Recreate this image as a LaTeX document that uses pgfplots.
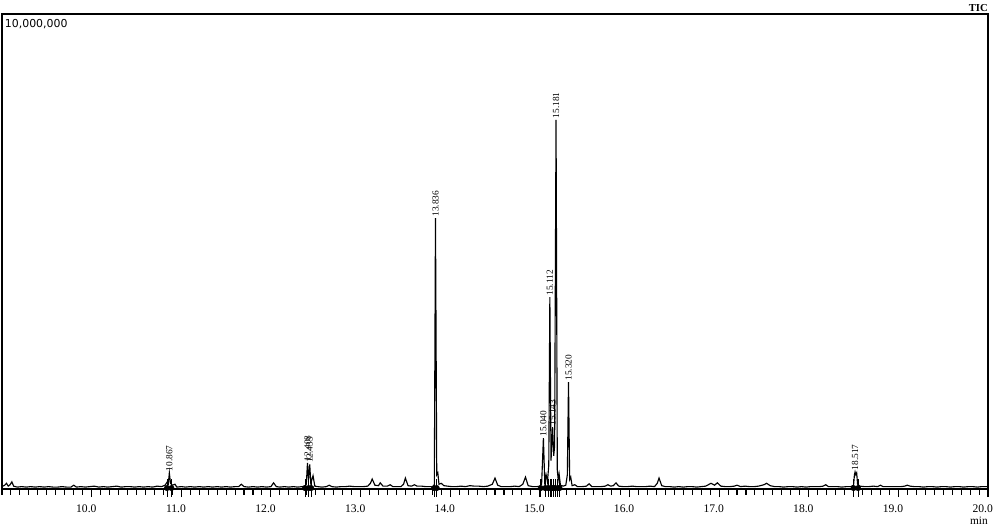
\documentclass[border=0pt]{standalone}
\usepackage{pgfplots}
\pgfplotsset{compat=1.18}
\usepackage{fontspec}
\setmainfont{Liberation Serif}
\newfontfamily\dejavu{DejaVu Sans}

\begin{document}
\begin{tikzpicture}
\begin{axis}[
    scale only axis,
    width=739.5pt, height=356.25pt,
    xmin=9, xmax=20, ymin=0, ymax=10,
    clip=false,
    axis line style={line width=1.1pt},
    xtick={10,11,...,20},
    minor xtick={9.0,9.1,...,20.0},
    ytick=\empty,
    xtick pos=bottom,
    tick align=outside,
    major tick length=6pt,
    minor tick length=4.5pt,
    tick style={black, line width=0.8pt},
    xticklabel style={font=\fontsize{8.7}{10}\selectfont, xshift=-4pt, yshift=-2pt,
        /pgf/number format/.cd, fixed, fixed zerofill, precision=1, assume math mode=true},
]
% TIC trace, intensity in millions
\addplot[black, line width=0.85pt] coordinates {
(9.00,0.05) (9.03,0.08) (9.05,0.12) (9.07,0.06) (9.09,0.09) (9.11,0.15) (9.13,0.06)
(9.17,0.04) (9.22,0.05) (9.27,0.04) (9.32,0.05) (9.37,0.04) (9.42,0.05) (9.47,0.04)
(9.52,0.05) (9.57,0.04) (9.62,0.04) (9.67,0.05) (9.72,0.04) (9.77,0.04) (9.80,0.08)
(9.83,0.04) (9.88,0.05) (9.93,0.04) (9.98,0.05) (10.03,0.06) (10.08,0.04) (10.13,0.05)
(10.18,0.04) (10.23,0.05) (10.28,0.06) (10.33,0.04) (10.38,0.05) (10.43,0.05)
(10.48,0.04) (10.53,0.05) (10.58,0.04) (10.63,0.05) (10.68,0.04) (10.73,0.06)
(10.78,0.05) (10.82,0.08) (10.84,0.14) (10.855,0.10) (10.867,0.34) (10.88,0.12)
(10.90,0.08) (10.93,0.10) (10.95,0.04) (11.00,0.05) (11.05,0.04) (11.10,0.05)
(11.15,0.04) (11.20,0.05) (11.25,0.04) (11.30,0.05) (11.35,0.04) (11.40,0.05)
(11.45,0.04) (11.50,0.05) (11.55,0.04) (11.60,0.05) (11.64,0.05) (11.67,0.10)
(11.70,0.05) (11.75,0.04) (11.80,0.05) (11.85,0.04) (11.90,0.05) (11.95,0.04)
(12.00,0.05) (12.03,0.13) (12.06,0.05) (12.10,0.04) (12.15,0.05) (12.20,0.04)
(12.25,0.05) (12.30,0.04) (12.35,0.05) (12.38,0.06) (12.395,0.10) (12.408,0.55)
(12.42,0.20) (12.433,0.52) (12.445,0.12) (12.47,0.28) (12.49,0.06) (12.52,0.05)
(12.57,0.04) (12.62,0.05) (12.65,0.08) (12.68,0.05) (12.73,0.04) (12.78,0.05)
(12.83,0.05) (12.88,0.06) (12.93,0.05) (12.98,0.05) (13.03,0.05) (13.08,0.06)
(13.11,0.12) (13.13,0.21) (13.16,0.08) (13.20,0.07) (13.22,0.13) (13.25,0.06)
(13.30,0.06) (13.33,0.09) (13.36,0.05) (13.40,0.05) (13.45,0.05) (13.48,0.10)
(13.50,0.23) (13.53,0.07) (13.57,0.06) (13.60,0.09) (13.63,0.06) (13.68,0.06)
(13.73,0.05) (13.78,0.05) (13.81,0.04) (13.823,0.10) (13.836,5.70) (13.85,0.30)
(13.862,0.34) (13.875,0.10) (13.90,0.12) (13.93,0.07) (13.97,0.06) (14.02,0.05)
(14.07,0.05) (14.12,0.06) (14.17,0.05) (14.22,0.07) (14.27,0.06) (14.32,0.06)
(14.37,0.05) (14.42,0.06) (14.47,0.10) (14.50,0.23) (14.53,0.08) (14.57,0.05)
(14.62,0.05) (14.67,0.05) (14.72,0.06) (14.77,0.05) (14.81,0.10) (14.84,0.25)
(14.87,0.07) (14.92,0.05) (14.97,0.05) (15.00,0.06) (15.02,0.10) (15.040,1.07)
(15.055,0.15) (15.07,0.30) (15.085,0.15) (15.10,0.50) (15.112,4.04) (15.125,0.60)
(15.133,0.90) (15.143,1.30) (15.155,0.70) (15.165,0.90) (15.181,7.77) (15.195,0.40)
(15.205,0.20) (15.215,0.32) (15.23,0.08) (15.26,0.06) (15.29,0.08) (15.307,0.30)
(15.320,2.25) (15.333,0.20) (15.345,0.25) (15.36,0.07) (15.39,0.09) (15.42,0.05)
(15.47,0.05) (15.52,0.06) (15.55,0.11) (15.58,0.05) (15.63,0.05) (15.68,0.05)
(15.73,0.06) (15.76,0.09) (15.79,0.06) (15.82,0.07) (15.85,0.13) (15.88,0.06)
(15.93,0.05) (15.98,0.05) (16.03,0.06) (16.08,0.05) (16.13,0.05) (16.18,0.05)
(16.23,0.06) (16.28,0.05) (16.31,0.12) (16.33,0.23) (16.36,0.07) (16.40,0.05)
(16.45,0.05) (16.50,0.04) (16.55,0.05) (16.60,0.04) (16.65,0.05) (16.70,0.05)
(16.75,0.04) (16.80,0.05) (16.85,0.06) (16.91,0.12) (16.95,0.08) (16.98,0.13)
(17.02,0.06) (17.07,0.05) (17.12,0.05) (17.17,0.06) (17.20,0.08) (17.24,0.05)
(17.29,0.06) (17.34,0.05) (17.39,0.05) (17.44,0.06) (17.50,0.09) (17.53,0.12)
(17.57,0.07) (17.62,0.05) (17.67,0.05) (17.72,0.04) (17.77,0.05) (17.82,0.05)
(17.87,0.04) (17.92,0.05) (17.97,0.04) (18.02,0.05) (18.07,0.05) (18.12,0.05)
(18.16,0.06) (18.19,0.09) (18.22,0.05) (18.27,0.05) (18.32,0.05) (18.37,0.04)
(18.42,0.05) (18.47,0.05) (18.50,0.08) (18.51,0.30) (18.517,0.36) (18.525,0.30)
(18.535,0.34) (18.545,0.10) (18.57,0.06) (18.62,0.05) (18.67,0.05) (18.72,0.06)
(18.77,0.05) (18.80,0.08) (18.83,0.05) (18.88,0.05) (18.93,0.05) (18.98,0.05)
(19.03,0.05) (19.07,0.06) (19.10,0.08) (19.13,0.06) (19.18,0.05) (19.23,0.05)
(19.28,0.04) (19.33,0.05) (19.38,0.05) (19.43,0.04) (19.48,0.05) (19.53,0.05)
(19.58,0.04) (19.63,0.05) (19.68,0.05) (19.73,0.04) (19.78,0.05) (19.83,0.05)
(19.88,0.04) (19.93,0.05) (20.00,0.05)
};
% integration start/end marks
\addplot[only marks, mark=none, error bars/.cd, y dir=both, y explicit,
    error mark=none, error bar style={black, line width=0.5pt}] coordinates {
(10.84,0.02) +- (0,0.18) (10.89,0.02) +- (0,0.18)
(12.38,0.02) +- (0,0.18) (12.42,0.02) +- (0,0.18) (12.45,0.02) +- (0,0.18)
(13.82,0.02) +- (0,0.18) (13.85,0.02) +- (0,0.18)
(15.01,0.02) +- (0,0.18) (15.06,0.02) +- (0,0.18) (15.09,0.02) +- (0,0.18)
(15.12,0.02) +- (0,0.18) (15.13,0.02) +- (0,0.18) (15.15,0.02) +- (0,0.18)
(15.17,0.02) +- (0,0.18) (15.20,0.02) +- (0,0.18) (15.22,0.02) +- (0,0.18)
(18.50,0.02) +- (0,0.18) (18.55,0.02) +- (0,0.18)
};
% peak retention-time labels
\addplot[only marks, mark=none, nodes near coords, point meta=explicit symbolic,
    every node near coord/.style={rotate=90, anchor=west, inner sep=1pt,
        font=\fontsize{7}{8}\selectfont}] coordinates {
(10.867,0.34) [10.867]
(12.408,0.55) [12.408]
(12.433,0.52) [12.433]
(13.836,5.70) [13.836]
(15.040,1.07) [15.040]
(15.112,4.04) [15.112]
(15.143,1.30) [15.143]
(15.181,7.77) [15.181]
(15.320,2.25) [15.320]
(18.517,0.36) [18.517]
};
\node[anchor=base west, inner sep=0pt, font=\dejavu\fontsize{8.2}{9}\selectfont]
    at (rel axis cs:0,1) [xshift=2pt, yshift=-10.5pt] {10,000,000};
\node[anchor=base east, inner sep=0pt, font=\bfseries\fontsize{8}{9}\selectfont]
    at (rel axis cs:1,1) [yshift=1.8pt] {TIC};
\node[anchor=base east, inner sep=0pt, font=\fontsize{8.5}{10}\selectfont]
    at (rel axis cs:1,0) [yshift=-27pt] {min};
\end{axis}
\pgfresetboundingbox
\path[use as bounding box] ([xshift=-1.5pt,yshift=-32.25pt]current axis.south west)
    rectangle ([xshift=12pt,yshift=10.5pt]current axis.north east);
\end{tikzpicture}
\end{document}
